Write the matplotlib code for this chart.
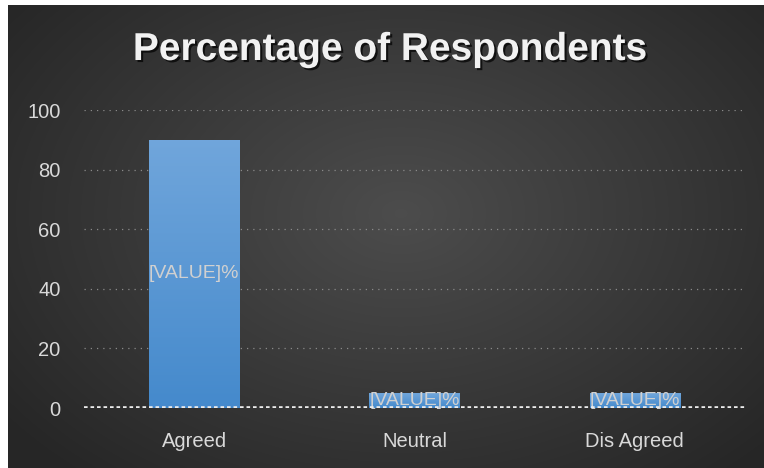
import matplotlib
matplotlib.use('Agg')
import matplotlib.pyplot as plt
import matplotlib.patheffects as pe
import numpy as np

categories = ['Agreed', 'Neutral', 'Dis Agreed']
values = [90, 5, 5]
labels = ['[VALUE]%', '[VALUE]%', '[VALUE]%']
yticks = [0, 20, 40, 60, 80, 100]

plt.rcParams['font.family'] = ['Liberation Sans', 'DejaVu Sans']

fig = plt.figure(figsize=(7.64, 4.68), dpi=100, facecolor='white')

# dark radial background of the chart area
bg = fig.add_axes([8/764, 0, 756/764, 463/468])
bg.set_axis_off()
yy, xx = np.mgrid[0:1:300j, 0:1:500j]
r = np.sqrt(((xx - 0.52) / 0.75)**2 + ((yy - 0.45) / 0.85)**2)
shade = np.clip(0.30 - 0.17 * r, 0.15, 0.30)
bg.imshow(np.dstack([shade]*3), aspect='auto', extent=[0, 1, 0, 1], interpolation='bilinear')
bg.set_xlim(0, 1)
bg.set_ylim(0, 1)

ax = fig.add_axes([84/764, 60/468, 661/764, 298/468])
ax.set_facecolor('none')
x = np.arange(len(categories))
bars = ax.bar(x, values, width=0.41, color='#5b9bd5', zorder=2)

# vertical gradient on each bar
grad = np.linspace(0, 1, 100).reshape(-1, 1)
top = np.array([0.44, 0.65, 0.86])
bot = np.array([0.27, 0.54, 0.80])
img = bot + (top - bot) * grad[..., None]
for b in bars:
    im = ax.imshow(img, extent=[b.get_x(), b.get_x() + b.get_width(), 0, b.get_height()],
                   origin='lower', aspect='auto', zorder=2.5, interpolation='bilinear')
    im.set_clip_path(b)

for xi, v, lab in zip(x, values, labels):
    ax.text(xi, v / 2, lab, ha='center', va='center', color='#d0d0d0',
            fontsize=14, zorder=3)

ax.set_xlim(-0.5, 2.5)
ax.set_ylim(0, 100)
ax.set_yticks(yticks)
ax.set_xticks(x)
ax.set_xticklabels(categories)
ax.tick_params(length=0, colors='#d9d9d9', labelsize=14.5)
ax.tick_params(axis='y', pad=17)
ax.tick_params(axis='x', pad=17)
for s in ax.spines.values():
    s.set_visible(False)

for t in yticks[1:]:
    ax.axhline(t, color='#8a8a8a', lw=0.9, ls=(0, (1, 4)), zorder=1)
ax.axhline(0, color='#ececec', lw=2.6, ls=(0, (1, 0.8)), zorder=4)

fig.text(390/764, 1 - 50/468, 'Percentage of Respondents', ha='center', va='center',
         color='#f2f2f2', fontsize=28, fontweight='bold',
         path_effects=[pe.SimplePatchShadow(offset=(1.5, -1.5), shadow_rgbFace='black', alpha=0.7),
                       pe.Normal()])

fig.savefig('out.png', dpi=100, facecolor=fig.get_facecolor())
